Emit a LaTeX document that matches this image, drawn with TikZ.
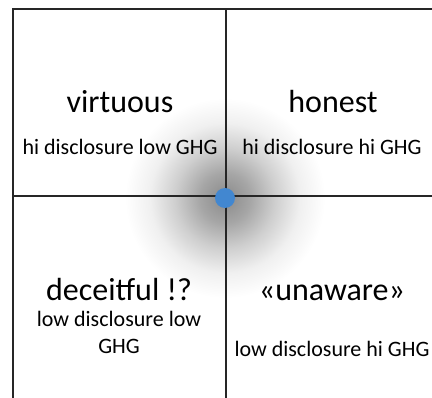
\documentclass[tikz,border=0pt]{standalone}
\usepackage{fontspec}
\setmainfont{Carlito}
\definecolor{dotblue}{HTML}{4287D0}
\pgfdeclareradialshading{glow}{\pgfpoint{0bp}{0bp}}{color(0bp)=(black!46); color(5bp)=(black!35); color(10bp)=(black!19); color(15bp)=(black!6); color(20bp)=(white); color(50bp)=(white)}
\tikzset{
	title/.style={anchor=base, font=\fontsize{32}{36}\selectfont},
	sub/.style={anchor=base, align=center, font=\fontsize{22}{27}\selectfont},
	grid/.style={line width=1.2pt, color=black!85}
}

\begin{document}
\begin{tikzpicture}[x=1pt, y=-1pt]
		%%%%% START %%%%%
		\useasboundingbox (0, 0) rectangle (432, 398);
		
		% shadow round the centre
		\fill[shading=glow] (225, 198) circle (125);
		\draw[white, line width=3pt] (225, 198) circle (125);
		
		% axes
		\coordinate (tl) at (13, 9);
		\coordinate (tr) at (432, 9);
		\coordinate (bl) at (13, 398);
		\coordinate (tm) at (226, 9);
		\coordinate (bm) at (226, 398);
		\coordinate (ml) at (13, 196);
		\coordinate (mr) at (432, 196);
		\draw[grid] (bl) -- (tl) -- (tr);
		\draw[grid] (tm) -- (bm);
		\draw[grid] (ml) -- (mr);
		
		\fill[dotblue] (225, 198) circle (10);
		
		% quadrants
		\node[title] (virt) at (120, 113) {virtuous};
		\node[sub] (virtsub) at (120, 155) {hi disclosure low GHG};
		\node[title] (hon) at (333, 113) {honest};
		\node[sub] (honsub) at (332, 155) {hi disclosure hi GHG};
		\node[title] (dec) at (119, 301) {deceitful !?};
		\node[sub, anchor=north] (decsub) at (119, 308) {low disclosure low\\GHG};
		\node[title] (unaw) at (332, 301) {«unaware»};
		\node[sub] (unawsub) at (332, 357) {low disclosure hi GHG};
		
		%%%%% END %%%%%
	\end{tikzpicture}
\end{document}
